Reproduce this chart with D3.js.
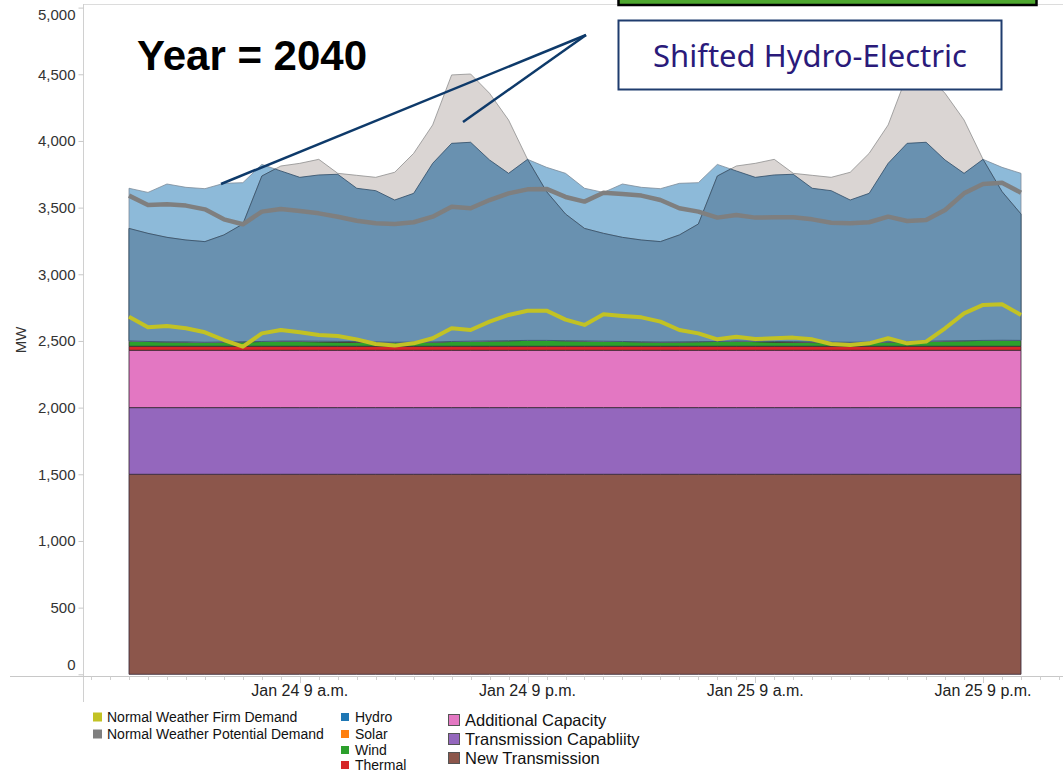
<!DOCTYPE html>
<html>
<head>
<meta charset="utf-8">
<script src="https://cdn.jsdelivr.net/npm/d3@7/dist/d3.min.js"></script>
<style>
body { margin: 0; background: #fff; }
svg { display: block; font-family: "Liberation Sans", Arial, sans-serif; }
</style>
</head>
<body>
<svg id="chart" width="1063" height="773"></svg>
<script>
// hourly values, Jan 24 0:00 .. Jan 25 23:00 (MW)
var newTransmission = [
    1500,1500,1500,1500,1500,1500,1500,1500,1500,1500,1500,1500,1500,1500,1500,1500,1500,1500,1500,1500,1500,1500,1500,1500,
    1500,1500,1500,1500,1500,1500,1500,1500,1500,1500,1500,1500,1500,1500,1500,1500,1500,1500,1500,1500,1500,1500,1500,1500];
var transmissionCap = [
    500,500,500,500,500,500,500,500,500,500,500,500,500,500,500,500,500,500,500,500,500,500,500,500,
    500,500,500,500,500,500,500,500,500,500,500,500,500,500,500,500,500,500,500,500,500,500,500,500];
var additionalCap = [
    430,430,430,430,430,430,430,430,430,430,430,430,430,430,430,430,430,430,430,430,430,430,430,430,
    430,430,430,430,430,430,430,430,430,430,430,430,430,430,430,430,430,430,430,430,430,430,430,430];
var thermal = [
    30,30,30,30,30,30,30,30,30,30,30,30,30,30,30,30,30,30,30,30,30,30,30,30,
    30,30,30,30,30,30,30,30,30,30,30,30,30,30,30,30,30,30,30,30,30,30,30,30];
var wind = [
    40,36,34,33,30,32,34,36,38,36,34,32,30,28,28,30,32,36,38,40,42,44,44,42,
    40,38,36,34,32,33,35,36,38,35,32,30,28,27,28,30,33,36,38,40,42,44,45,44];
var solar = [
    0,0,0,0,0,0,0,0,1,3,4,5,5,4,2,1,0,0,0,0,0,0,0,0,
    0,0,0,0,0,0,0,0,1,3,4,5,5,4,2,1,0,0,0,0,0,0,0,0];
var hydro = [
    1145,1118,1183,1159,1152,1190,1193,1328,1276,1228,1247,1253,1150,1135,1067,1116,1340,1486,1492,1357,1255,1358,1298,1255,
    1145,1116,1181,1158,1150,1189,1192,1328,1276,1229,1249,1255,1152,1136,1067,1116,1339,1486,1492,1357,1255,1358,1297,1253];
var hydroShifted = [
    844,811,783,764,755,803,883,1241,1313,1333,1364,1260,1247,1235,1275,1416,1628,1999,2004,1857,1655,1358,1116,950,
    844,809,781,763,753,802,882,1241,1313,1334,1366,1262,1249,1236,1275,1416,1627,1999,2004,1857,1655,1358,1115,948];
var firmDemand = [
    2682,2602,2612,2595,2565,2507,2457,2557,2582,2565,2545,2537,2512,2477,2465,2482,2520,2595,2582,2645,2695,2727,2727,2660,
    2620,2700,2687,2677,2645,2582,2557,2512,2532,2515,2520,2525,2512,2477,2470,2482,2520,2482,2495,2595,2707,2770,2775,2695];
var potentialDemand = [
    3590,3520,3525,3515,3487,3412,3375,3470,3490,3475,3457,3432,3402,3382,3377,3390,3432,3507,3495,3557,3607,3637,3640,3580,
    3545,3612,3602,3590,3557,3495,3470,3425,3445,3425,3427,3427,3412,3387,3382,3390,3432,3400,3407,3482,3607,3677,3687,3612];

var yTicks = [0, 500, 1000, 1500, 2000, 2500, 3000, 3500, 4000, 4500, 5000];
var xTickHours = [new Date(2040, 0, 24, 9), new Date(2040, 0, 24, 21), new Date(2040, 0, 25, 9), new Date(2040, 0, 25, 21)];
var xTickLabels = ["Jan 24 9 a.m.", "Jan 24 9 p.m.", "Jan 25 9 a.m.", "Jan 25 9 p.m."];

var keys = ["New Transmission", "Transmission Capabliity", "Additional Capacity", "Thermal", "Wind", "Solar"];
var colors = {
    "New Transmission": "#8c564b",
    "Transmission Capabliity": "#9467bd",
    "Additional Capacity": "#e377c2",
    "Thermal": "#d62728",
    "Wind": "#2ca02c",
    "Solar": "#ff7f0e",
    "Hydro": "#1f77b4"
};

var hours = d3.timeHour.range(new Date(2040, 0, 24, 0), new Date(2040, 0, 26, 0));

var rows = hours.map(function(h, i) {
    return {
        "date": h,
        "New Transmission": newTransmission[i],
        "Transmission Capabliity": transmissionCap[i],
        "Additional Capacity": additionalCap[i],
        "Thermal": thermal[i],
        "Wind": wind[i],
        "Solar": solar[i]
    };
});

var series = d3.stack().keys(keys)(rows);
var base = series[series.length - 1].map(d => d[1]);
var topA = base.map((b, i) => b + hydro[i]);
var topB = base.map((b, i) => b + hydroShifted[i]);

var svg = d3.select("#chart");

var x = d3.scaleTime()
    .domain([hours[0], hours[hours.length - 1]])
    .range([129, 1021]);

var y = d3.scaleLinear()
    .domain([0, 5000])
    .range([674.3, 7.6]);

function at(t) {
    return new Date(+hours[0] + t * 36e5);
}

// frame lines
svg.append("line").attr("x1", 83).attr("x2", 1063).attr("y1", 4.5).attr("y2", 4.5)
    .attr("stroke", "#dcdcdc");
svg.append("line").attr("x1", 83.5).attr("x2", 83.5).attr("y1", 4).attr("y2", 702)
    .attr("stroke", "#d0d0d0");

// stacked supply
var area = d3.area()
    .x(d => x(d.data.date))
    .y0(d => y(d[0]))
    .y1(d => y(d[1]));

svg.append("g")
    .selectAll("path")
    .data(series)
    .join("path")
    .attr("fill", d => colors[d.key])
    .attr("stroke", "#3b2b38")
    .attr("stroke-width", 1)
    .attr("stroke-opacity", 0.85)
    .attr("d", area);

// hydro, original vs shifted, overlap darker
var hydroArea = d3.area()
    .x(d => x(at(d.t)))
    .y0(d => y(d.b))
    .y1(d => y(d.v));

function pts(tops) {
    return tops.map((v, i) => ({t: i, b: base[i], v: v}));
}

var overlap = [];
for (var i = 0; i < hours.length; i++) {
    overlap.push({t: i, b: base[i], v: Math.min(topA[i], topB[i])});
    if (i < hours.length - 1) {
        var d0 = topA[i] - topB[i], d1 = topA[i + 1] - topB[i + 1];
        if (d0 * d1 < 0) {
            var f = d0 / (d0 - d1);
            overlap.push({
                t: i + f,
                b: base[i] + f * (base[i + 1] - base[i]),
                v: topA[i] + f * (topA[i + 1] - topA[i])
            });
        }
    }
}

svg.append("path")
    .attr("fill", "#8dbad9")
    .attr("stroke", "#7d8c99")
    .attr("stroke-width", 0.8)
    .attr("d", hydroArea(pts(topA)));

svg.append("path")
    .attr("fill", "#dad5d3")
    .attr("stroke", "#8f8f8f")
    .attr("stroke-width", 0.8)
    .attr("d", hydroArea(pts(topB)));

svg.append("path")
    .attr("fill", "#6991b0")
    .attr("stroke", "#2f4b66")
    .attr("stroke-width", 0.8)
    .attr("d", hydroArea(overlap));

// demand lines
var line = d3.line()
    .x((d, i) => x(hours[i]))
    .y(d => y(d));

svg.append("path")
    .attr("fill", "none")
    .attr("stroke", "#c2c224")
    .attr("stroke-width", 4)
    .attr("stroke-linejoin", "round")
    .attr("d", line(firmDemand));

svg.append("path")
    .attr("fill", "none")
    .attr("stroke", "#7f7f7f")
    .attr("stroke-width", 4.5)
    .attr("stroke-linejoin", "round")
    .attr("d", line(potentialDemand));

// y axis
var yAxis = g => g
    .attr("transform", "translate(83.5,0)")
    .call(d3.axisLeft(y).tickValues(yTicks).tickSize(5).tickPadding(3).tickFormat(d3.format(",")))
    .call(g => g.select(".domain").remove())
    .call(g => g.selectAll(".tick line").attr("stroke", "#c8c8c8"))
    .call(g => g.selectAll(".tick text")
        .attr("fill", "#333")
        .style("font", "15px 'Liberation Sans', Arial, sans-serif"))
    .call(g => g.selectAll(".tick").filter(d => d == 0).select("text").attr("dy", "-0.3em"))
    .call(g => g.selectAll(".tick").filter(d => d == 5000).select("text").attr("dy", "0.78em"));

svg.append("g").call(yAxis);

svg.append("text")
    .attr("transform", "translate(26,340) rotate(-90)")
    .attr("text-anchor", "middle")
    .attr("fill", "#333")
    .style("font-size", "15px")
    .text("MW");

// x axis
svg.append("line").attr("x1", 10).attr("x2", 1063).attr("y1", 676.5).attr("y2", 676.5)
    .attr("stroke", "#c8c8c8");

var minorTicks = d3.timeHour.range(x.invert(84), x.invert(1063));
svg.append("g")
    .selectAll("line")
    .data(minorTicks)
    .join("line")
    .attr("x1", d => Math.round(x(d)) + 0.5)
    .attr("x2", d => Math.round(x(d)) + 0.5)
    .attr("y1", 676.5)
    .attr("y2", d => d.getHours() % 12 == 9 ? 683 : 680)
    .attr("stroke", "#d0d0d0");

svg.append("g")
    .selectAll("text")
    .data(xTickHours)
    .join("text")
    .attr("x", d => x(d))
    .attr("y", 690)
    .attr("dy", "0.35em")
    .attr("text-anchor", "middle")
    .attr("fill", "#222")
    .style("font-size", "16px")
    .text((d, i) => xTickLabels[i]);

// legend
var legendCols = [
    {x: 92, size: 11, font: 14, gap: 4, items: [
        ["Normal Weather Firm Demand", "#c2c224", 717],
        ["Normal Weather Potential Demand", "#7f7f7f", 734]]},
    {x: 340, size: 10, font: 14, gap: 5, items: [
        [" Hydro", colors["Hydro"], 717],
        ["Solar", colors["Solar"], 734],
        ["Wind", colors["Wind"], 750],
        ["Thermal", colors["Thermal"], 765]]},
    {x: 448, size: 12, font: 16.5, gap: 5, items: [
        ["Additional Capacity", colors["Additional Capacity"], 720],
        ["Transmission Capabliity", colors["Transmission Capabliity"], 739],
        ["New Transmission", colors["New Transmission"], 758]]}
];

legendCols.forEach(function(col) {
    var g = svg.append("g");
    g.selectAll("rect")
        .data(col.items)
        .join("rect")
        .attr("x", col.x + 0.5)
        .attr("y", d => d[2] - col.size / 2 + 0.5)
        .attr("width", col.size - 1)
        .attr("height", col.size - 1)
        .attr("fill", d => d[1])
        .attr("stroke", col.x == 448 ? "#555" : "#fff")
        .attr("stroke-width", 1);
    g.selectAll("text")
        .data(col.items)
        .join("text")
        .attr("x", col.x + col.size + col.gap)
        .attr("y", d => d[2])
        .attr("dy", "0.35em")
        .attr("fill", "#111")
        .style("font-size", col.font + "px")
        .text(d => d[0]);
});

// annotations
svg.append("rect")
    .attr("x", 618.5).attr("y", -10).attr("width", 418).attr("height", 15)
    .attr("fill", "#4ea72e").attr("stroke", "#000").attr("stroke-width", 2.5);

svg.append("g")
    .attr("stroke", "#0e3a6a")
    .attr("stroke-width", 2.5)
    .selectAll("line")
    .data([[221, 184], [463, 122]])
    .join("line")
    .attr("x1", 586).attr("y1", 35)
    .attr("x2", d => d[0]).attr("y2", d => d[1]);

svg.append("rect")
    .attr("x", 618.5).attr("y", 20.5).attr("width", 383).attr("height", 69)
    .attr("fill", "#fff").attr("stroke", "#1f3c6e").attr("stroke-width", 2);

svg.append("text")
    .attr("x", 810).attr("y", 67)
    .attr("text-anchor", "middle")
    .attr("fill", "#2a1a7a")
    .style("font", "31px 'Noto Sans', 'Open Sans', sans-serif")
    .text("Shifted Hydro-Electric");

svg.append("text")
    .attr("x", 137).attr("y", 70)
    .attr("fill", "#000")
    .style("font", "bold 42px 'Liberation Sans', Arial, sans-serif")
    .text("Year = 2040");
</script>
</body>
</html>
